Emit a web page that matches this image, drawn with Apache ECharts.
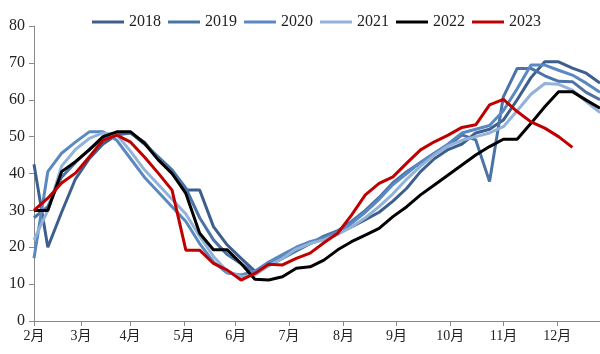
<!DOCTYPE html>
<html>
<head>
<meta charset="utf-8">
<script src="https://cdn.jsdelivr.net/npm/echarts@6/dist/echarts.min.js"></script>
<style>html,body{margin:0;padding:0;background:#fff}#c{width:600px;height:354px}</style>
</head>
<body>
<div id="c"></div>
<script>
// Month labels and their positions on the observation index axis
var monthLabels = ['2月','3月','4月','5月','6月','7月','8月','9月','10月','11月','12月'];
var monthPos = [0, 3.40, 6.95, 10.87, 14.61, 18.47, 22.42, 26.26, 30.16, 34.01, 37.91];
var yTicks = [0, 10, 20, 30, 40, 50, 60, 70, 80];

var s2018 = [42.5,20,29.5,38.5,44,48,50.5,51,48.5,44,40,35.5,35.5,25.6,20.6,17,13.5,15.5,17.5,19.5,21,22.5,24,25.5,27.5,29.5,32.5,36,40.5,44,46.5,48,51,52,54.5,60,66,70.3,70.3,68.6,67.2,64.5];
var s2019 = [28,31,39,43,46.5,49.5,51,51,48,44.5,41,36,28,22,18,15.5,13,15,17,19,21,23,24.5,27,30,33.5,37.5,40.5,43,45.5,47.5,50.5,49.1,37.8,60.8,68.5,68.5,66.5,65,64.9,62,60];
var s2020 = [17,40.5,45.5,48.5,51.3,51.3,49,44,39,35,31,27,21,16,13,12.5,13.5,16,18,20,21.5,22.5,24,26.5,29.5,33,37,40,43,45.5,48,51,52,53,57,63,69.4,69.4,68,66.7,64.5,62];
var s2021 = [22,30,42,46.5,49.5,51,50.5,46,41,37,33,29,23,17.5,13.5,12,12.5,15,17,19.5,21,22,23.5,25.5,28,31,34.5,38.5,42,45,47.5,49,50,51,52.7,57,61.5,64.4,64.2,62.6,59.5,56.5];
var s2022 = [30,30,40.5,43.2,46.4,50,51.3,51.3,48.2,43.7,40,34.6,23.8,19.3,19.3,15.6,11.3,11.1,12,14.3,14.7,16.5,19.3,21.5,23.3,25.1,28.3,31,34.2,36.9,39.6,42.3,45,47.3,49.3,49.3,53.6,58.1,62.2,62.2,59.9,57.7];
var s2023 = [30,33.3,37.4,40.1,44.5,49,50.4,48.5,44.5,40.1,35.5,19.2,19.2,15.6,13.8,11.1,12.9,15.4,15.2,17,18.4,21.2,23.8,28.7,34.2,37.3,39.1,42.8,46.4,48.6,50.4,52.5,53.2,58.6,60.1,56.8,54,52.3,50,47.1];

var seriesNames = ['2018','2019','2020','2021','2022','2023'];
var seriesData = [s2018, s2019, s2020, s2021, s2022, s2023];
var colors = ['#3d5f8e','#4a74a8','#5a88c0','#93b2da','#000000','#c00000'];

var font = '"Times New Roman","Liberation Serif","Noto Sans CJK SC",serif';
var chart = echarts.init(document.getElementById('c'), null, {renderer:'canvas'});
chart.setOption({
  animation: false,
  color: colors,
  legend: {
    left: 87, top: 9,
    itemWidth: 32, itemHeight: 3, itemGap: 7,
    icon: 'rect',
    textStyle: {fontFamily: font, fontSize: 16, color: '#222'},
    data: seriesNames
  },
  grid: {left: 34, right: 0, top: 26, bottom: 33, containLabel: false},
  xAxis: {
    type: 'value', min: 0, max: 41,
    axisLine: {show: true, lineStyle: {color: '#8a8a8a', width: 1}},
    axisTick: {show: true, length: 5, customValues: monthPos, lineStyle: {color: '#8a8a8a'}},
    axisLabel: {
      customValues: monthPos, margin: 8,
      fontFamily: font, fontSize: 14, color: '#222',
      formatter: function (v) {
        var best = 0, d = 1e9;
        for (var k = 0; k < monthPos.length; k++) { var dd = Math.abs(monthPos[k] - v); if (dd < d) { d = dd; best = k; } }
        return monthLabels[best];
      }
    },
    splitLine: {show: false}
  },
  yAxis: {
    type: 'value', min: yTicks[0], max: yTicks[yTicks.length - 1], interval: 10,
    axisLine: {show: true, lineStyle: {color: '#8a8a8a', width: 1}},
    axisTick: {show: true, length: 5, lineStyle: {color: '#8a8a8a'}},
    axisLabel: {margin: 9, fontFamily: font, fontSize: 16, color: '#222'},
    splitLine: {show: false}
  },
  series: seriesNames.map(function (n, k) {
    return {
      name: n, type: 'line', showSymbol: false, symbol: 'none',
      lineStyle: {width: 3, color: colors[k]},
      itemStyle: {color: colors[k]},
      data: seriesData[k].map(function (v, i) { return [i, v]; })
    };
  })
});
</script>
</body>
</html>
